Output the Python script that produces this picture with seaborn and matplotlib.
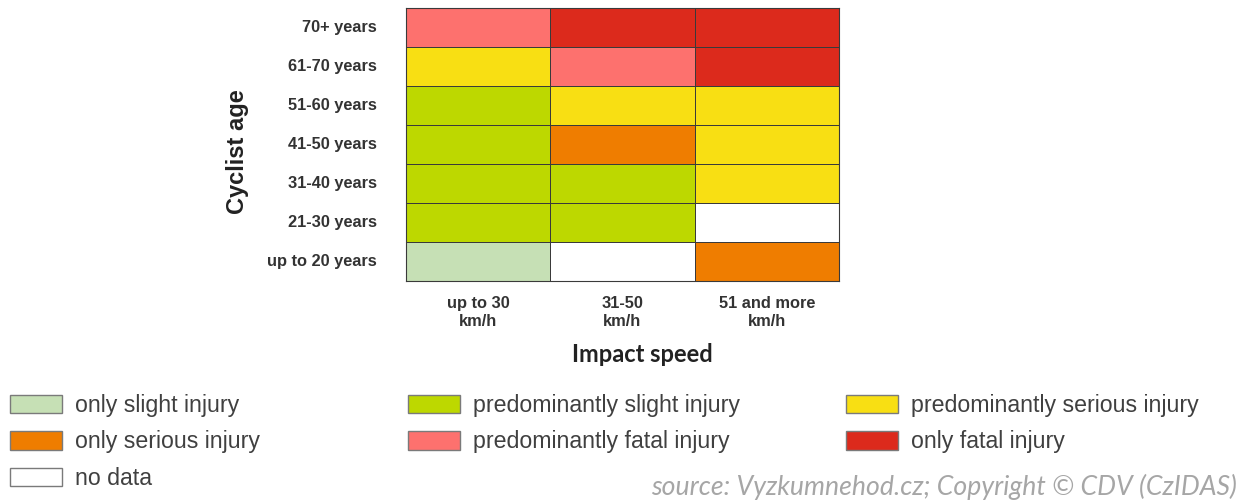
import numpy as np
import pandas as pd
import matplotlib
matplotlib.use("Agg")
import matplotlib.pyplot as plt
from matplotlib.colors import ListedColormap
from matplotlib.patches import Patch
import seaborn as sns

# ---- data ----
age_groups = ["70+ years", "61-70 years", "51-60 years", "41-50 years",
              "31-40 years", "21-30 years", "up to 20 years"]
speed_groups = ["up to 30\nkm/h", "31-50\nkm/h", "51 and more\nkm/h"]
categories = ["no data", "only slight injury", "predominantly slight injury",
              "predominantly serious injury", "only serious injury",
              "predominantly fatal injury", "only fatal injury"]
category_colors = ["#ffffff", "#c6e0b5", "#bdd800", "#f8df13",
                   "#ef7d00", "#fd716e", "#dc2a1c"]
# category index per cell (rows = age groups, cols = speed groups)
cells = [
    [5, 6, 6],
    [3, 5, 6],
    [2, 3, 3],
    [2, 4, 3],
    [2, 2, 3],
    [2, 2, 0],
    [1, 0, 4],
]
# legend layout (reading order, three columns)
legend_columns = [
    ["only slight injury", "only serious injury", "no data"],
    ["predominantly slight injury", "predominantly fatal injury"],
    ["predominantly serious injury", "only fatal injury"],
]
source_text = "source: Vyzkumnehod.cz; Copyright \u00a9 CDV (CzIDAS)"

# ---- plot ----
sns.set_style("white")
plt.rcParams["font.family"] = ["Liberation Sans", "DejaVu Sans"]

W, H = 1246, 503
fig = plt.figure(figsize=(W / 100, H / 100), dpi=100)
ax = fig.add_axes([406 / W, 1 - 281 / H, 433 / W, 273 / H])

df = pd.DataFrame(cells, index=age_groups, columns=speed_groups)
cmap = ListedColormap(category_colors)
sns.heatmap(df, ax=ax, cmap=cmap, vmin=-0.5, vmax=len(categories) - 0.5,
            cbar=False, linewidths=0.7, linecolor="#3a3a3a", square=False)

for s in ax.spines.values():
    s.set_visible(True)
    s.set_color("#3a3a3a")
    s.set_linewidth(0.8)

ax.tick_params(axis="both", length=0)
ax.tick_params(axis="y", pad=21)
ax.tick_params(axis="x", pad=11)
ax.set_yticklabels(age_groups, rotation=0, fontsize=11.8, fontweight="bold",
                   color="#333333")
ax.set_xticklabels(speed_groups, rotation=0, fontsize=11.8, fontweight="bold",
                   color="#333333", linespacing=1.25)

ax.set_ylabel("Cyclist age", fontsize=17, fontweight="bold", color="#222222")
ax.yaxis.set_label_coords(-0.363, 0.475)
ax.set_xlabel("Impact speed", fontsize=17, fontweight="bold",
              color="#222222", family=["Lato", "DejaVu Sans"])
ax.xaxis.set_label_coords(0.545, -0.228)

# ---- legend ----
color_of = dict(zip(categories, category_colors))
col_x = [10, 408, 846]
for x, labels in zip(col_x, legend_columns):
    handles = [Patch(facecolor=color_of[l], edgecolor="#7a7a7a", linewidth=1.0,
                     label=l) for l in labels]
    fig.legend(handles=handles, loc="upper left",
               bbox_to_anchor=(x / W, 1 - 394 / H), frameon=False,
               fontsize=16.7, handlelength=2.25, handleheight=0.86,
               handletextpad=0.56, labelspacing=0.58, borderpad=0,
               borderaxespad=0, labelcolor="#404040")

fig.text(1237 / W, 1 - 487 / H, source_text, ha="right", va="center",
         fontsize=19.2, style="italic", color="#a6a6a6",
         family=["Lato", "DejaVu Sans"])

fig.savefig("out.png", dpi=100)
